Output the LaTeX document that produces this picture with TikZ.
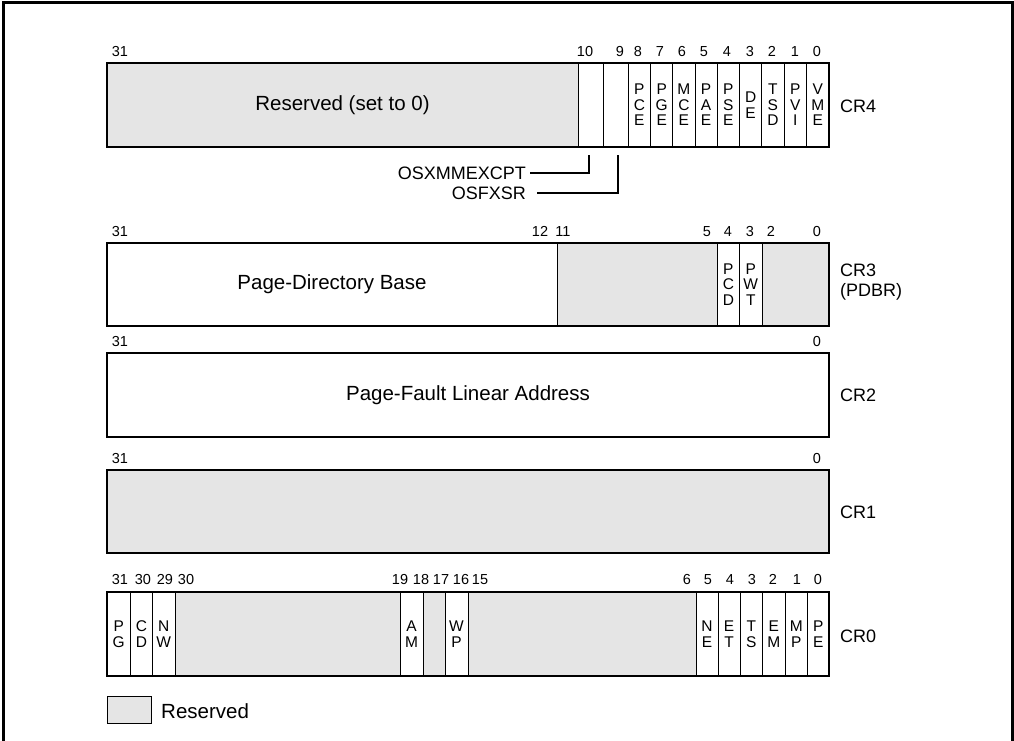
\documentclass[tikz,border=0pt]{standalone}
\usepackage{fontspec}
\setmainfont{Liberation Sans}
\definecolor{resv}{HTML}{E5E5E5}
\newcommand\regcell[7]{\draw[cellline, fill=#6] (#2,#4) rectangle (#3,#5) node[midway, bitl] (#1) {#7};}
\begin{document}
\begin{tikzpicture}[x=1pt,y=-1pt,
  cellline/.style={line width=1pt},
  regout/.style={line width=2.2pt},
  bitl/.style={align=center, inner sep=0pt, font=\fontsize{15.5}{15.5}\selectfont},
  mainl/.style={inner sep=0pt, font=\fontsize{20.5}{22}\selectfont},
  sidel/.style={inner sep=0pt, font=\fontsize{18}{20}\selectfont},
  num/.style={inner sep=0pt, anchor=base, font=\fontsize{14.5}{16}\selectfont},
  crl/.style={anchor=west, inner sep=0pt, align=left, font=\fontsize{18}{20}\selectfont},
  conn/.style={line width=1.8pt},
  frame/.style={line width=3pt}]
\useasboundingbox (0,0) rectangle (1014,741);
\draw[frame] (3,760) -- (3,3) -- (1012,3) -- (1012,760);

% CR4
\regcell{c4res}{107}{578}{63}{147}{resv}{}
\node[mainl] at (c4res) {Reserved (set to 0)};
\regcell{c4b10}{578}{603}{63}{147}{white}{}
\regcell{c4b9}{603}{628}{63}{147}{white}{}
\regcell{c4b8}{628}{650.7}{63}{147}{white}{P\\C\\E}
\regcell{c4b7}{650.7}{672.7}{63}{147}{white}{P\\G\\E}
\regcell{c4b6}{672.7}{695}{63}{147}{white}{M\\C\\E}
\regcell{c4b5}{695}{717.3}{63}{147}{white}{P\\A\\E}
\regcell{c4b4}{717.3}{739.5}{63}{147}{white}{P\\S\\E}
\regcell{c4b3}{739.5}{761.8}{63}{147}{white}{D\\E}
\regcell{c4b2}{761.8}{784}{63}{147}{white}{T\\S\\D}
\regcell{c4b1}{784}{806.5}{63}{147}{white}{P\\V\\I}
\regcell{c4b0}{806.5}{829}{63}{147}{white}{V\\M\\E}
\draw[regout] (107,63) rectangle (829,147);
\foreach \x/\t in {120/31,585/10,620/9,638/8,660/7,682/6,704/5,727/4,750/3,772/2,795/1,817/0}
  \node[num] at (\x,56.2) {\t};
\node[crl] (cr4) at (840,106) {CR4};

\node[sidel, anchor=east] (osx) at (526,173) {OSXMMEXCPT};
\node[sidel, anchor=east] (osf) at (526,193) {OSFXSR};
\coordinate (p10) at (589,155);
\coordinate (p9) at (618,155);
\draw[conn] ([xshift=4pt]osx.east) -| (p10);
\draw[conn] ([xshift=11pt]osf.east) -| (p9);

% CR3
\regcell{c3base}{107}{557}{243}{326}{white}{}
\node[mainl] at (c3base) {Page-Directory Base};
\regcell{c3r1}{557}{717.3}{243}{326}{resv}{}
\regcell{c3pcd}{717.3}{739.5}{243}{326}{white}{P\\C\\D}
\regcell{c3pwt}{739.5}{762}{243}{326}{white}{P\\W\\T}
\regcell{c3r2}{762}{829}{243}{326}{resv}{}
\draw[regout] (107,243) rectangle (829,326);
\foreach \x/\t in {120/31,540/12,563/11,707/5,728/4,750/3,771/2,817/0}
  \node[num] at (\x,236.2) {\t};
\node[crl] (cr3) at (840,282) {CR3\\(PDBR)};

% CR2
\regcell{c2}{107}{829}{353}{437}{white}{}
\node[mainl] at (c2) {Page-Fault Linear Address};
\draw[regout] (107,353) rectangle (829,437);
\foreach \x/\t in {120/31,817/0}
  \node[num] at (\x,346.2) {\t};
\node[crl] (cr2) at (840,395) {CR2};

% CR1
\regcell{c1}{107}{829}{470}{553}{resv}{}
\draw[regout] (107,470) rectangle (829,553);
\foreach \x/\t in {120/31,817/0}
  \node[num] at (\x,463.2) {\t};
\node[crl] (cr1) at (840,512) {CR1};

% CR0
\regcell{c0pg}{107}{130.5}{592}{676}{white}{P\\G}
\regcell{c0cd}{130.5}{152.5}{592}{676}{white}{C\\D}
\regcell{c0nw}{152.5}{175}{592}{676}{white}{N\\W}
\regcell{c0r1}{175}{400}{592}{676}{resv}{}
\regcell{c0am}{400}{423}{592}{676}{white}{A\\M}
\regcell{c0r2}{423}{445}{592}{676}{resv}{}
\regcell{c0wp}{445}{468}{592}{676}{white}{W\\P}
\regcell{c0r3}{468}{696}{592}{676}{resv}{}
\regcell{c0ne}{696}{718}{592}{676}{white}{N\\E}
\regcell{c0et}{718}{740}{592}{676}{white}{E\\T}
\regcell{c0ts}{740}{762.5}{592}{676}{white}{T\\S}
\regcell{c0em}{762.5}{785}{592}{676}{white}{E\\M}
\regcell{c0mp}{785}{807.5}{592}{676}{white}{M\\P}
\regcell{c0pe}{807.5}{829}{592}{676}{white}{P\\E}
\draw[regout] (107,592) rectangle (829,676);
\foreach \x/\t in {120/31,143/30,165/29,186/30,400/19,421/18,441/17,461/16,480/15,687/6,708/5,730/4,752/3,773/2,797/1,818/0}
  \node[num] at (\x,584.2) {\t};
\node[crl] (cr0) at (840,636) {CR0};

% legend
\draw[cellline, fill=resv] (107,696) rectangle (151,723) node[midway] (leg) {};
\node[mainl, anchor=west] (legt) at (161,711) {Reserved};
\end{tikzpicture}
\end{document}
